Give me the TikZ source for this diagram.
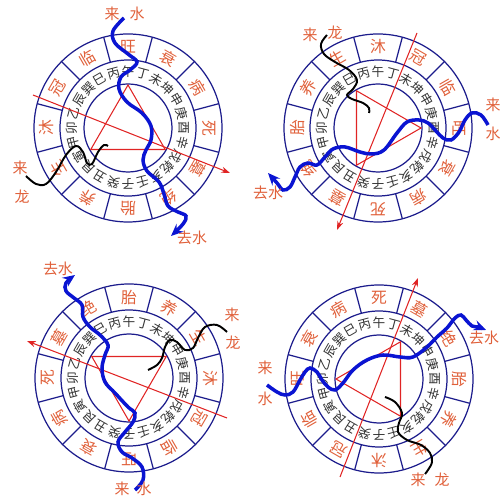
\documentclass[tikz,border=0pt]{standalone}
\usepackage{fontspec}
\setmainfont{Noto Sans CJK SC}
\usepackage{xcolor}
\definecolor{ringblue}{HTML}{1C1C8C}
\definecolor{stagered}{HTML}{E0603A}
\definecolor{linered}{HTML}{E02424}
\definecolor{waterblue}{HTML}{0A14D2}
\usetikzlibrary{calc,arrows.meta}

\begin{document}
\begin{tikzpicture}[x=0.2mm,y=0.2mm,
  ring/.style={draw=ringblue, line width=0.7pt},
  mount/.style={text=black!80, font=\fontsize{7.2}{7.2}\selectfont, inner sep=0pt},
  stage/.style={text=stagered, font=\fontsize{9}{9}\selectfont, inner sep=0pt},
  lbl/.style={text=stagered, font=\fontsize{8.5}{8.5}\selectfont, inner sep=0pt},
  water/.style={waterblue, line width=2pt, -{Stealth[length=7pt,width=6pt,inset=2.5pt]}},
  dragon/.style={black, line width=1.1pt},
  axis/.style={linered, line width=0.6pt, -{Stealth[length=5pt,width=3.5pt]}}]
  \useasboundingbox (0,0) rectangle (500,500);

  % Draw the four wheels
  \foreach \cx/\cy/\s [count=\w] in {128/372/2, 378/372/5, 129/122/8, 379/121/11} {
    \coordinate (c\w) at (\cx,\cy);
    \draw[ring] (c\w) circle[radius=44] (c\w) circle[radius=68] (c\w) circle[radius=94];
    \foreach \k in {0,...,11}
      \draw[ring] ($(c\w)+(15+30*\k:68)$) -- ($(c\w)+(15+30*\k:94)$);
    % 24 mountains
    \foreach \m [count=\j from 0] in {午,丙,巳,巽,辰,乙,卯,甲,寅,艮,丑,癸,子,壬,亥,乾,戌,辛,酉,庚,申,坤,未,丁}
      \node[mount, rotate=15*\j] (w\w m\j) at ($(c\w)+(90+15*\j:56)$) {\m};
    % 12 stages
    \foreach \t [count=\i from 0, evaluate=\i as \a using 270-30*(\s+\i)] in {生,沐,冠,临,旺,衰,病,死,墓,绝,胎,养}
      \node[stage, rotate=\a-90] (w\w s\i) at ($(c\w)+(\a:81)$) {\t};
    % Triangle
    \draw[linered, line width=0.6pt] ($(c\w)+(270-30*\s:43)$) -- ($(c\w)+(150-30*\s:43)$)
      -- ($(c\w)+(30-30*\s:43)$) -- cycle;
  }

  % Wheel 1
  \coordinate (a1s) at (33,405);
  \coordinate (a1e) at (230,327);
  \draw[axis] (a1s) -- (a1e);
  \draw[dragon] plot[smooth, tension=0.6] coordinates {(26,324) (36,316) (46,316) (56,328)
    (66,345) (76,354) (83,348) (87,337) (92,336) (98,348) (104,355) (108,354)};
  \draw[water] plot[smooth, tension=0.6] coordinates {(124,482) (113,469) (115,457) (128,446)
    (137,438) (130,430) (121,423) (119,411) (127,398) (142,387) (151,374) (151,360) (146,350)
    (143,340) (147,329) (159,318) (164,306) (168,294) (178,288) (186,284) (183,276) (171,264)};
  \node[lbl] (w1inA) at (112,486) {来};
  \node[lbl] (w1inB) at (137,486) {水};
  \node[lbl] (w1out) at (192,262) {去水};
  \node[lbl] (w1drA) at (20,332) {来};
  \node[lbl] (w1drB) at (22,303) {龙};

  % Wheel 2
  \coordinate (a2s) at (417,467);
  \coordinate (a2e) at (337,270);
  \draw[axis] (a2s) -- (a2e);
  \draw[dragon] plot[smooth, tension=0.6] coordinates {(327,465) (321,456) (324,446) (335,438)
    (349,430) (357,420) (353,411) (347,405) (352,401) (363,397) (369,392) (369,387)};
  \draw[water] plot[smooth, tension=0.6] coordinates {(488,375) (481,385) (472,387) (465,380)
    (459,368) (451,360) (443,362) (436,369) (428,377) (419,380) (407,378) (397,367) (384,350)
    (372,346) (360,348) (345,353) (333,351) (325,343) (317,335) (308,337) (300,333) (295,323)
    (290,313) (283,310) (277,317) (268,327)};
  \node[lbl] (w2inA) at (493,395) {来};
  \node[lbl] (w2inB) at (493,366) {水};
  \node[lbl] (w2out) at (268,307) {去水};
  \node[lbl] (w2drA) at (310,465) {来};
  \node[lbl] (w2drB) at (335,467) {龙};

  % Wheel 3
  \coordinate (a3s) at (227,82);
  \coordinate (a3e) at (27,159);
  \draw[axis] (a3s) -- (a3e);
  \draw[dragon] plot[smooth, tension=0.6] coordinates {(227,168) (217,175) (205,173) (198,162)
    (193,152) (185,150) (177,158) (170,160) (165,153) (162,142) (157,135) (148,130)};
  \draw[water] plot[smooth, tension=0.6] coordinates {(135,10) (143,20) (142,33) (132,42)
    (122,48) (118,58) (125,68) (133,78) (135,87) (128,93) (115,107) (105,118) (102,132)
    (105,145) (108,155) (100,165) (90,173) (83,183) (82,195) (74,202) (66,209) (66,217) (75,225)};
  \node[lbl] (w3inA) at (122,11) {来};
  \node[lbl] (w3inB) at (144,11) {水};
  \node[lbl] (w3out) at (58,231) {去水};
  \node[lbl] (w3drA) at (232,185) {来};
  \node[lbl] (w3drB) at (233,157) {龙};

  % Wheel 4
  \coordinate (a4s) at (340,23);
  \coordinate (a4e) at (418,222);
  \draw[axis] (a4s) -- (a4e);
  \draw[dragon] plot[smooth, tension=0.6] coordinates {(385,103) (395,98) (402,87) (399,77)
    (398,68) (407,60) (421,55) (430,47) (432,38) (428,30) (425,26)};
  \draw[water] plot[smooth, tension=0.6] coordinates {(267,115) (277,108) (285,105) (293,108)
    (300,120) (305,128) (310,132) (317,128) (322,120) (328,113) (335,110) (343,117) (353,130)
    (367,140) (383,145) (400,143) (413,143) (427,153) (437,163) (447,172) (455,182) (461,185)
    (466,180) (472,174) (478,173) (486,170)};
  \node[lbl] (w4inA) at (265,132) {来};
  \node[lbl] (w4inB) at (265,101) {水};
  \node[lbl] (w4out) at (484,162) {去水};
  \node[lbl] (w4drA) at (418,20) {来};
  \node[lbl] (w4drB) at (442,20) {龙};
\end{tikzpicture}
\end{document}
